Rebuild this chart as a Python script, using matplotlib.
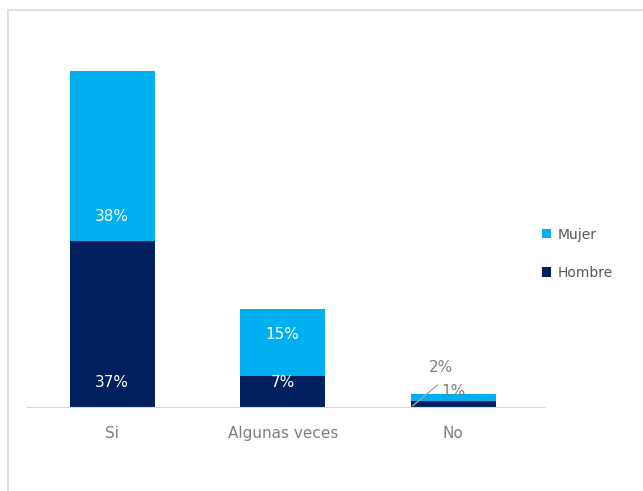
import matplotlib.pyplot as plt
from matplotlib.patches import Rectangle

categories = ['Si', 'Algunas veces', 'No']
hombre = [0.37, 0.07, 0.014]
mujer = [0.38, 0.15, 0.016]
series_names = ['Hombre', 'Mujer']

COL_H = '#002060'
COL_M = '#00B0F0'
GRAY = '#7f7f7f'

fig = plt.figure(figsize=(6.43, 4.91), dpi=100)
ax = fig.add_axes([0.042, 0.171, 0.806, 0.729])

x = list(range(len(categories)))
b1 = ax.bar(x, hombre, width=0.5, color=COL_H, label=series_names[0])
b2 = ax.bar(x, mujer, width=0.5, bottom=hombre, color=COL_M, label=series_names[1])

# labels inside the bars (offset above each segment's base, in points)
inside_off = [[18, 18], [18, 30]]
for i in range(2):
    h, m = hombre[i], mujer[i]
    ax.annotate(f'{h:.0%}', (x[i], 0), xytext=(0, inside_off[i][0]), textcoords='offset points',
                ha='center', va='center', color='white', fontsize=11)
    ax.annotate(f'{m:.0%}', (x[i], h), xytext=(0, inside_off[i][1]), textcoords='offset points',
                ha='center', va='center', color='white', fontsize=11)

# small bar: labels outside with leader line
i = 2
ax.plot([x[i] - 0.24, x[i] - 0.09], [0.002, 0.05], color='#a6a6a6', lw=1, solid_capstyle='butt')
ax.text(x[i], 0.035, f'{hombre[i]:.0%}', ha='center', va='center', color=GRAY, fontsize=11)
ax.text(x[i] - 0.07, 0.088, f'{mujer[i]:.0%}', ha='center', va='center', color=GRAY, fontsize=11)

ax.set_xlim(-0.5, 2.54)
ax.set_ylim(0, 0.80)
ax.set_yticks([])
ax.set_xticks(x)
ax.set_xticklabels(categories, color=GRAY, fontsize=11)
ax.tick_params(axis='x', length=0, pad=14)
for s in ['top', 'right', 'left']:
    ax.spines[s].set_visible(False)
ax.spines['bottom'].set_color('#d9d9d9')

leg = fig.legend(handles=[b2, b1], labels=['Mujer', 'Hombre'], loc='center left',
                 bbox_to_anchor=(0.823, 0.483), frameon=False, fontsize=10,
                 handlelength=0.65, handleheight=0.65, handletextpad=0.5, labelspacing=1.75)
for t in leg.get_texts():
    t.set_color('#595959')

# chart frame (runs off right/bottom edge)
fig.patches.append(Rectangle((8 / 643, -0.1), 1.2, 1 - 10 / 491 + 0.1, transform=fig.transFigure,
                             fill=False, edgecolor='#d9d9d9', lw=1.2))

fig.savefig('out.png', dpi=100)
